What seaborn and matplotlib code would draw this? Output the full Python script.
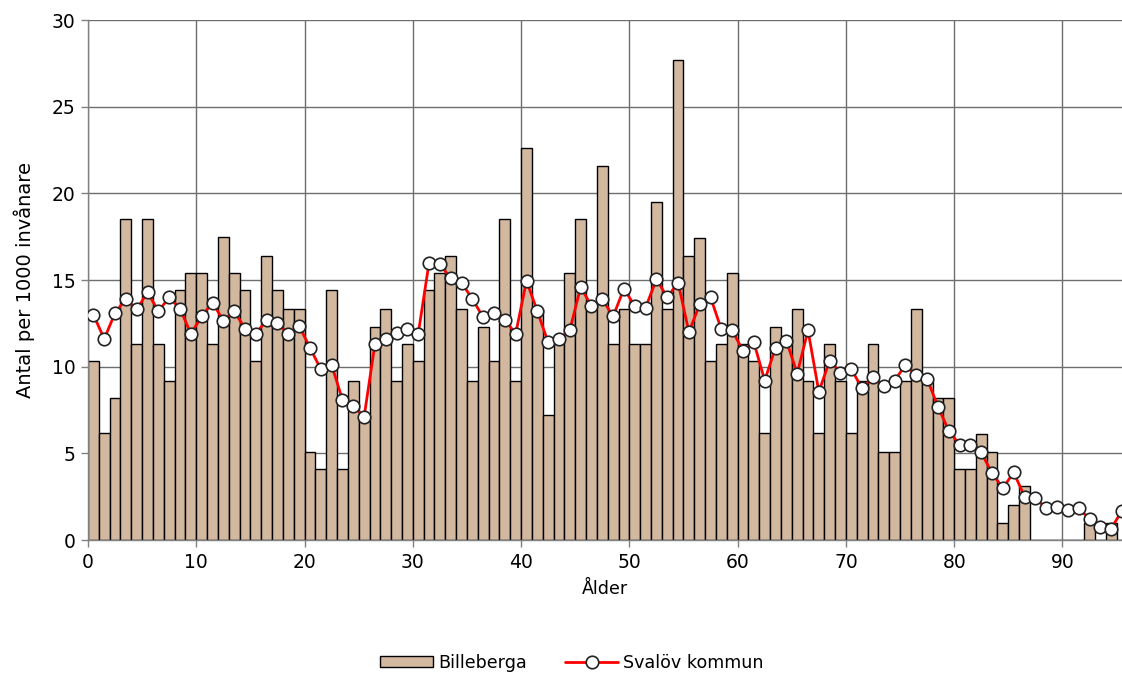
import matplotlib
matplotlib.use("Agg")
import matplotlib.pyplot as plt
import seaborn as sns
import pandas as pd
import numpy as np

ages = list(range(0, 96))
billeberga = [10.3, 6.2, 8.2, 18.5, 11.3, 18.5, 11.3, 9.2, 14.4, 15.4,
              15.4, 11.3, 17.5, 15.4, 14.4, 10.3, 16.4, 14.4, 13.3, 13.3,
              5.1, 4.1, 14.4, 4.1, 9.2, 7.2, 12.3, 13.3, 9.2, 11.3,
              10.3, 14.4, 15.4, 16.4, 13.3, 9.2, 12.3, 10.3, 18.5, 9.2,
              22.6, 13.3, 7.2, 11.3, 15.4, 18.5, 13.3, 21.6, 11.3, 13.3,
              11.3, 11.3, 19.5, 13.3, 27.7, 16.4, 17.4, 10.3, 11.3, 15.4,
              11.3, 10.3, 6.2, 12.3, 11.3, 13.3, 9.2, 6.2, 11.3, 9.2,
              6.2, 9.2, 11.3, 5.1, 5.1, 9.2, 13.3, 9.2, 8.2, 8.2,
              4.1, 4.1, 6.1, 5.1, 1.0, 2.0, 3.1, 0, 0, 0,
              0, 0, 1.0, 0, 1.0, 0]
svalov = [13.0, 11.6, 13.1, 13.9, 13.3, 14.3, 13.2, 14.0, 13.35, 11.9,
          12.9, 13.7, 12.65, 13.2, 12.2, 11.9, 12.7, 12.5, 11.9, 12.35,
          11.1, 9.85, 10.1, 8.1, 7.75, 7.1, 11.3, 11.6, 11.95, 12.2,
          11.9, 16.0, 15.9, 15.1, 14.85, 13.9, 12.85, 13.1, 12.7, 11.9,
          14.95, 13.2, 11.4, 11.6, 12.1, 14.6, 13.5, 13.9, 12.9, 14.5,
          13.5, 13.4, 15.05, 14.0, 14.85, 12.0, 13.6, 14.0, 12.15, 12.1,
          10.9, 11.4, 9.2, 11.1, 11.5, 9.6, 12.1, 8.55, 10.35, 9.65,
          9.85, 8.75, 9.4, 8.9, 9.2, 10.1, 9.5, 9.3, 7.7, 6.3,
          5.5, 5.5, 5.05, 3.85, 3.0, 3.9, 2.5, 2.4, 1.85, 1.9,
          1.75, 1.85, 1.2, 0.75, 0.65, 1.7]
xtick_labels = [0, 10, 20, 30, 40, 50, 60, 70, 80, 90]
yticks = [0, 5, 10, 15, 20, 25, 30]

sns.set_theme(style="white")
plt.rcParams['font.family'] = ['DejaVu Sans']
plt.rcParams['text.color'] = 'black'
plt.rcParams['axes.labelcolor'] = 'black'

df = pd.DataFrame({"age": ages, "Billeberga": billeberga, "Svalöv kommun": svalov})

fig = plt.figure(figsize=(11.22, 6.75), dpi=100)
ax = fig.add_axes([88/1122, 1 - 540/675, 1 - 88/1122, 520/675])

sns.barplot(data=df, x="age", y="Billeberga", color="#D3B8A0", width=1.0,
            edgecolor="black", linewidth=1.0, saturation=1, ax=ax,
            label="Billeberga", zorder=2)
sns.lineplot(data=df, x="age", y="Svalöv kommun", color="red", linewidth=2,
             marker="o", markersize=9, markerfacecolor="white",
             markeredgecolor="#222222", markeredgewidth=1.2, ax=ax,
             label="Svalöv kommun", zorder=3)

ax.set_xlim(-0.5, 95.0)
ax.set_ylim(0, 30)
ax.set_xticks([v - 0.5 for v in xtick_labels])
ax.set_xticklabels([str(v) for v in xtick_labels])
ax.set_yticks(yticks)
ax.set_yticklabels([str(v) for v in yticks])
ax.grid(True, axis="both", color="#6e6e6e", linewidth=1.0, zorder=0)
ax.set_axisbelow(True)
for s in ["top", "right"]:
    ax.spines[s].set_visible(False)
for s in ["left", "bottom"]:
    ax.spines[s].set_color("#808080")
    ax.spines[s].set_linewidth(1.0)
ax.tick_params(axis="both", which="major", length=5, width=1, color="#808080",
               labelsize=13.5, labelcolor="black", direction="out",
               bottom=True, left=True, pad=4)
ax.set_xlabel("Ålder", fontsize=12.6, labelpad=6, color="black")
ax.set_ylabel("Antal per 1000 invånare", fontsize=14, labelpad=12, color="black")

handles, labels = ax.get_legend_handles_labels()
order = [labels.index("Billeberga"), labels.index("Svalöv kommun")]
handles = [handles[i] for i in order]
labels = [labels[i] for i in order]
if ax.get_legend() is not None:
    ax.get_legend().remove()
fig.legend(handles, labels, loc="center", bbox_to_anchor=(572/1122, 1 - 663/675),
           ncol=2, frameon=False, fontsize=12.6, handlelength=3.0, handleheight=0.6,
           columnspacing=2.2, handletextpad=0.3)

fig.savefig("out.png", dpi=100)
